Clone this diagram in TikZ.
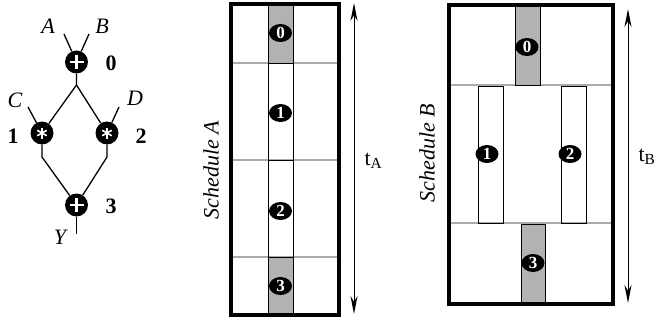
\documentclass[tikz,border=0pt]{standalone}
\usepackage{fontspec}
\setmainfont{Liberation Serif}
\usetikzlibrary{arrows.meta,shapes.geometric}
\begin{document}
\begin{tikzpicture}[x=1pt,y=-1pt,
  op/.style={circle,fill=black,minimum size=23pt,inner sep=0pt},
  wire/.style={line width=1.3pt},
  lbl/.style={font=\fontsize{22}{26}\selectfont\itshape},
  num/.style={font=\fontsize{22}{26}\selectfont\bfseries},
  tag/.style={ellipse,fill=black,text=white,inner sep=0pt,minimum width=23pt,minimum height=18pt,font=\fontsize{17}{18}\selectfont\bfseries},
  gridline/.style={draw=black!33,line width=1.2pt},
  frame/.style={draw,line width=3.4pt},
  cell/.style={draw,line width=0.9pt},
  graycell/.style={cell,fill=black!30},
  timeline/.style={line width=1pt,{Stealth[length=18pt,width=7pt]}-{Stealth[length=18pt,width=7pt]}},
  side/.style={font=\fontsize{22}{26}\selectfont\itshape,rotate=90}]
\useasboundingbox (0,0) rectangle (656,321);

% ---------- data-flow graph ----------
\node[op] (n0) at (76.5,62) {};
\node[op] (n1) at (42,133) {};
\node[op] (n2) at (107,133) {};
\node[op] (n3) at (76.5,205) {};

\draw[white,line width=2.4pt] (n0.center) +(-7,0) -- +(7,0) +(0,-7) -- +(0,7);
\draw[white,line width=2.4pt] (n3.center) +(-7,0) -- +(7,0) +(0,-7) -- +(0,7);
\foreach \n in {n1,n2}{
  \foreach \a in {90,30,150}{
    \draw[white,line width=1.6pt] (\n.center) +(\a:5.5) -- +(\a+180:5.5);
  }
}

\coordinate (ia) at (64,34);
\coordinate (ib) at (89,34);
\coordinate (ic) at (28,107);
\coordinate (id) at (119,107);
\coordinate (s0) at (76.5,85);
\coordinate (j1) at (42,157);
\coordinate (j2) at (107,157);
\coordinate (oy) at (76.5,234);

\draw[wire] (ia) -- (n0);
\draw[wire] (ib) -- (n0);
\draw[wire] (ic) -- (n1);
\draw[wire] (id) -- (n2);
\draw[wire] (n0) -- (s0) -- (n1);
\draw[wire] (s0) -- (n2);
\draw[wire] (n1) -- (j1) -- (n3);
\draw[wire] (n2) -- (j2) -- (n3);
\draw[wire] (n3) -- (oy);

\node[lbl] (la) at (48,26) {A};
\node[lbl] (lb) at (102,26) {B};
\node[lbl] (lc) at (15,100) {C};
\node[lbl] (ld) at (135,98) {D};
\node[lbl] (ly) at (60,237) {Y};
\node[num] (l0) at (111,63) {0};
\node[num] (l1) at (13,136) {1};
\node[num] (l2) at (141,136) {2};
\node[num] (l3) at (111,206) {3};

% ---------- Schedule A ----------
\draw[gridline] (231,63) -- (339,63);
\draw[gridline] (231,160) -- (339,160);
\draw[gridline] (231,257) -- (339,257);
\draw[graycell] (268,3) rectangle (293,63);
\draw[cell] (268,63) rectangle (293,160);
\draw[cell] (268,160) rectangle (293,257);
\draw[graycell] (268,257) rectangle (293,316);
\draw[frame] (231,4) rectangle (339,315);
\node[tag] (a0) at (280.5,33) {0};
\node[tag] (a1) at (280.5,113) {1};
\node[tag] (a2) at (280.5,211) {2};
\node[tag] (a3) at (280.5,286) {3};
\coordinate (ta1) at (354,3);
\coordinate (ta2) at (354,314);
\draw[timeline] (ta1) -- (ta2);
\node[font=\fontsize{22}{26}\selectfont,anchor=west] (tA) at (361,161) {t\textsubscript{A}};
\node[side] (sA) at (211,170) {Schedule A};

% ---------- Schedule B ----------
\draw[gridline] (449,85) -- (613,85);
\draw[gridline] (449,223) -- (613,223);
\draw[graycell] (515,5) rectangle (540,85);
\draw[cell] (478,86) rectangle (503,223);
\draw[cell] (561,86) rectangle (586,223);
\draw[graycell] (521,224) rectangle (545,304);
\draw[frame] (449,5) rectangle (613,304);
\node[tag] (b0) at (527,47) {0};
\node[tag] (b1) at (487,154) {1};
\node[tag] (b2) at (570,154) {2};
\node[tag] (b3) at (533,263) {3};
\coordinate (tb1) at (628,9);
\coordinate (tb2) at (628,303);
\draw[timeline] (tb1) -- (tb2);
\node[font=\fontsize{22}{26}\selectfont,anchor=west] (tB) at (635,157) {t\textsubscript{B}};
\node[side] (sB) at (427,153) {Schedule B};
\end{tikzpicture}
\end{document}
